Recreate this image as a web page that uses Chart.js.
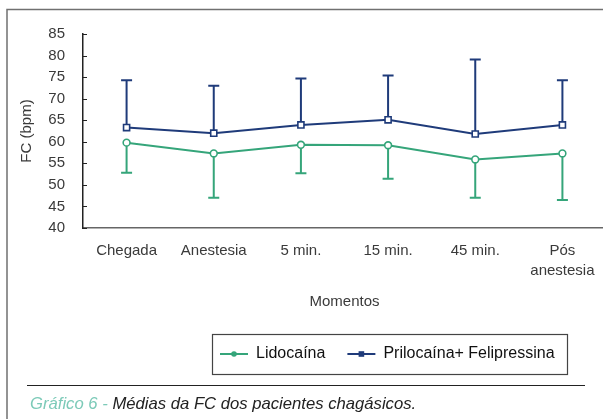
<!DOCTYPE html>
<html>
<head>
<meta charset="utf-8">
<script src="https://cdn.jsdelivr.net/npm/chart.js@4.4.1/dist/chart.umd.min.js"></script>
<style>
  html, body { margin: 0; padding: 0; background: #fff; overflow: hidden; }
  #wrap { position: relative; width: 603px; height: 419px; overflow: hidden; }
  #c { position: absolute; left: 0; top: 0; }
  #caption {
    position: absolute; left: 30px; top: 393px; margin: 0;
    font-family: "Liberation Sans", Arial, sans-serif; font-style: italic;
    font-size: 17px; line-height: 21px; color: #222; white-space: nowrap;
    transform-origin: left center; transform: scaleX(0.98);
  }
  #caption .lbl { color: #7ccab8; }
</style>
</head>
<body>
<div id="wrap">
  <canvas id="c" width="606" height="419"></canvas>
  <p id="caption"><span class="lbl">Gráfico 6 -</span> Médias da FC dos pacientes chagásicos.</p>
</div>
<script>
// ---- data ----
const categories = ['Chegada', 'Anestesia', '5 min.', '15 min.', '45 min.', ['Pós', 'anestesia']];
const lidocainaMean = [59.8, 57.3, 59.3, 59.2, 55.9, 57.3];
const lidocainaLower = [52.8, 47.0, 52.7, 51.4, 47.0, 46.5];
const prilocainaMean = [63.3, 62.0, 63.9, 65.1, 61.8, 63.9];
const prilocainaUpper = [74.3, 73.0, 74.7, 75.4, 79.1, 74.3];
const yTickMin = 40, yTickMax = 85, yTickStep = 5;
const seriesNames = ['Lidocaína', 'Prilocaína+ Felipressina'];
const yTitle = 'FC (bpm)';
const xTitle = 'Momentos';

const GREEN = '#35a57a';
const NAVY = '#1f3b7a';
const TEXT = '#3a3a3a';
const FONT = '"Liberation Sans", Arial, sans-serif';

const errorBars = [lidocainaLower, prilocainaUpper];

const decorPlugin = {
  id: 'decor',
  afterLayout(chart) {
    const lg = chart.legend;
    if (!lg || !lg.lineWidths) return;
    const pad = lg.options.labels.padding;
    const startX = (lg.left + pad + lg.right - lg.lineWidths[0]) / 2;
    const dx = 220 - startX;
    lg.left += dx; lg.right += dx;
    if (lg.legendHitBoxes) lg.legendHitBoxes.forEach(h => { h.left += dx; });
  },
  beforeDatasetsDraw(chart) {
    const ctx = chart.ctx;
    const xs = chart.scales.x, ys = chart.scales.y;
    ctx.save();
    chart.data.datasets.forEach((ds, di) => {
      const ends = errorBars[di];
      ctx.strokeStyle = ds.borderColor;
      ctx.lineWidth = 2;
      ds.data.forEach((v, i) => {
        const x = xs.getPixelForValue(i);
        const y0 = ys.getPixelForValue(v);
        const y1 = ys.getPixelForValue(ends[i]);
        ctx.beginPath();
        ctx.moveTo(x, y0); ctx.lineTo(x, y1);
        ctx.moveTo(x - 5.5, y1); ctx.lineTo(x + 5.5, y1);
        ctx.stroke();
      });
    });
    ctx.restore();
  },
  afterDraw(chart) {
    const ctx = chart.ctx;
    const ys = chart.scales.y;
    const area = chart.chartArea;
    ctx.save();
    // outer frame (left + top)
    ctx.strokeStyle = '#707070';
    ctx.lineWidth = 1.5;
    ctx.beginPath();
    ctx.moveTo(7, 419); ctx.lineTo(7, 9.5); ctx.lineTo(606, 9.5);
    ctx.stroke();
    // inward y ticks
    ctx.strokeStyle = '#222';
    ctx.lineWidth = 1;
    ys.ticks.forEach(t => {
      const y = Math.round(ys.getPixelForValue(t.value)) + 0.5;
      ctx.beginPath();
      ctx.moveTo(area.left, y); ctx.lineTo(area.left + 4, y);
      ctx.stroke();
    });
    // legend markers + box
    const lg = chart.legend;
    if (lg && lg.legendItems) {
      const pad = lg.options.labels.padding;
      const bw = lg.options.labels.pointStyleWidth;
      const cy = lg.top + pad + 8;
      let x = (lg.left + pad + lg.right - lg.lineWidths[0]) / 2;
      const widths = lg.legendHitBoxes.map(h => h.width);
      const xs0 = [];
      lg.legendItems.forEach((it, i) => {
        xs0.push(x);
        const mx = x + bw / 2;
        ctx.fillStyle = it.strokeStyle;
        if (i === 0) {
          ctx.beginPath(); ctx.arc(mx, cy, 2.8, 0, Math.PI * 2); ctx.fill();
        } else {
          ctx.fillRect(mx - 2.8, cy - 2.8, 5.6, 5.6);
        }
        x += widths[i] + pad;
      });
      const last = lg.legendItems.length - 1;
      const bl = xs0[0] - 8, br = xs0[last] + widths[last] + 12;
      ctx.strokeStyle = '#444';
      ctx.lineWidth = 1.2;
      ctx.strokeRect(Math.round(bl) + 0.5, Math.round(cy - 20) + 0.5, Math.round(br - bl), 40);
    }
    // caption separator
    ctx.strokeStyle = '#222';
    ctx.lineWidth = 1;
    ctx.beginPath();
    ctx.moveTo(27, 385.5); ctx.lineTo(585, 385.5);
    ctx.stroke();
    ctx.restore();
  }
};

new Chart(document.getElementById('c'), {
  type: 'line',
  data: {
    labels: categories,
    datasets: [
      {
        label: seriesNames[0],
        data: lidocainaMean,
        borderColor: GREEN,
        backgroundColor: GREEN,
        borderWidth: 2,
        tension: 0,
        pointStyle: 'circle',
        pointRadius: 3.4,
        pointBorderWidth: 1.6,
        pointBackgroundColor: '#ffffff',
        pointBorderColor: GREEN
      },
      {
        label: seriesNames[1],
        data: prilocainaMean,
        borderColor: NAVY,
        backgroundColor: NAVY,
        borderWidth: 2,
        tension: 0,
        pointStyle: 'rect',
        pointRadius: 4.3,
        pointBorderWidth: 1.6,
        pointBackgroundColor: '#ffffff',
        pointBorderColor: NAVY
      }
    ]
  },
  options: {
    responsive: false,
    animation: false,
    devicePixelRatio: 1,
    layout: { autoPadding: false, padding: { top: 34, bottom: 47, left: 0, right: 0 } },
    plugins: {
      tooltip: { enabled: false },
      legend: {
        position: 'bottom',
        labels: {
          usePointStyle: true,
          pointStyleWidth: 28,
          padding: 22,
          color: '#111',
          font: { family: FONT, size: 16 },
          generateLabels(chart) {
            const items = Chart.defaults.plugins.legend.labels.generateLabels(chart);
            items.forEach(it => { it.pointStyle = 'line'; it.lineWidth = 2; });
            return items;
          }
        }
      }
    },
    scales: {
      x: {
        type: 'category',
        offset: true,
        afterFit(s) { s.height = 96; s.paddingRight = 0; s.paddingLeft = 0; },
        grid: { display: true, drawOnChartArea: false, drawTicks: false },
        border: { display: true, color: '#666', width: 1.5 },
        ticks: {
          autoSkip: false, maxRotation: 0, padding: 13, color: TEXT,
          font: { family: FONT, size: 15, lineHeight: 1.34 }
        },
        title: {
          display: true, text: xTitle, color: TEXT,
          font: { family: FONT, size: 15 },
          padding: { top: 0, bottom: 13 }
        }
      },
      y: {
        min: yTickMin, max: yTickMax,
        afterFit(s) { s.width = 83; },
        grid: { display: true, drawOnChartArea: false, drawTicks: false },
        border: { display: true, color: '#222', width: 1.5 },
        ticks: {
          stepSize: yTickStep, padding: 18, color: TEXT,
          font: { family: FONT, size: 15 }
        },
        title: {
          display: true, text: yTitle, color: TEXT,
          font: { family: FONT, size: 15 },
          padding: { top: 18, bottom: 0 }
        }
      }
    }
  },
  plugins: [decorPlugin]
});
</script>
</body>
</html>
